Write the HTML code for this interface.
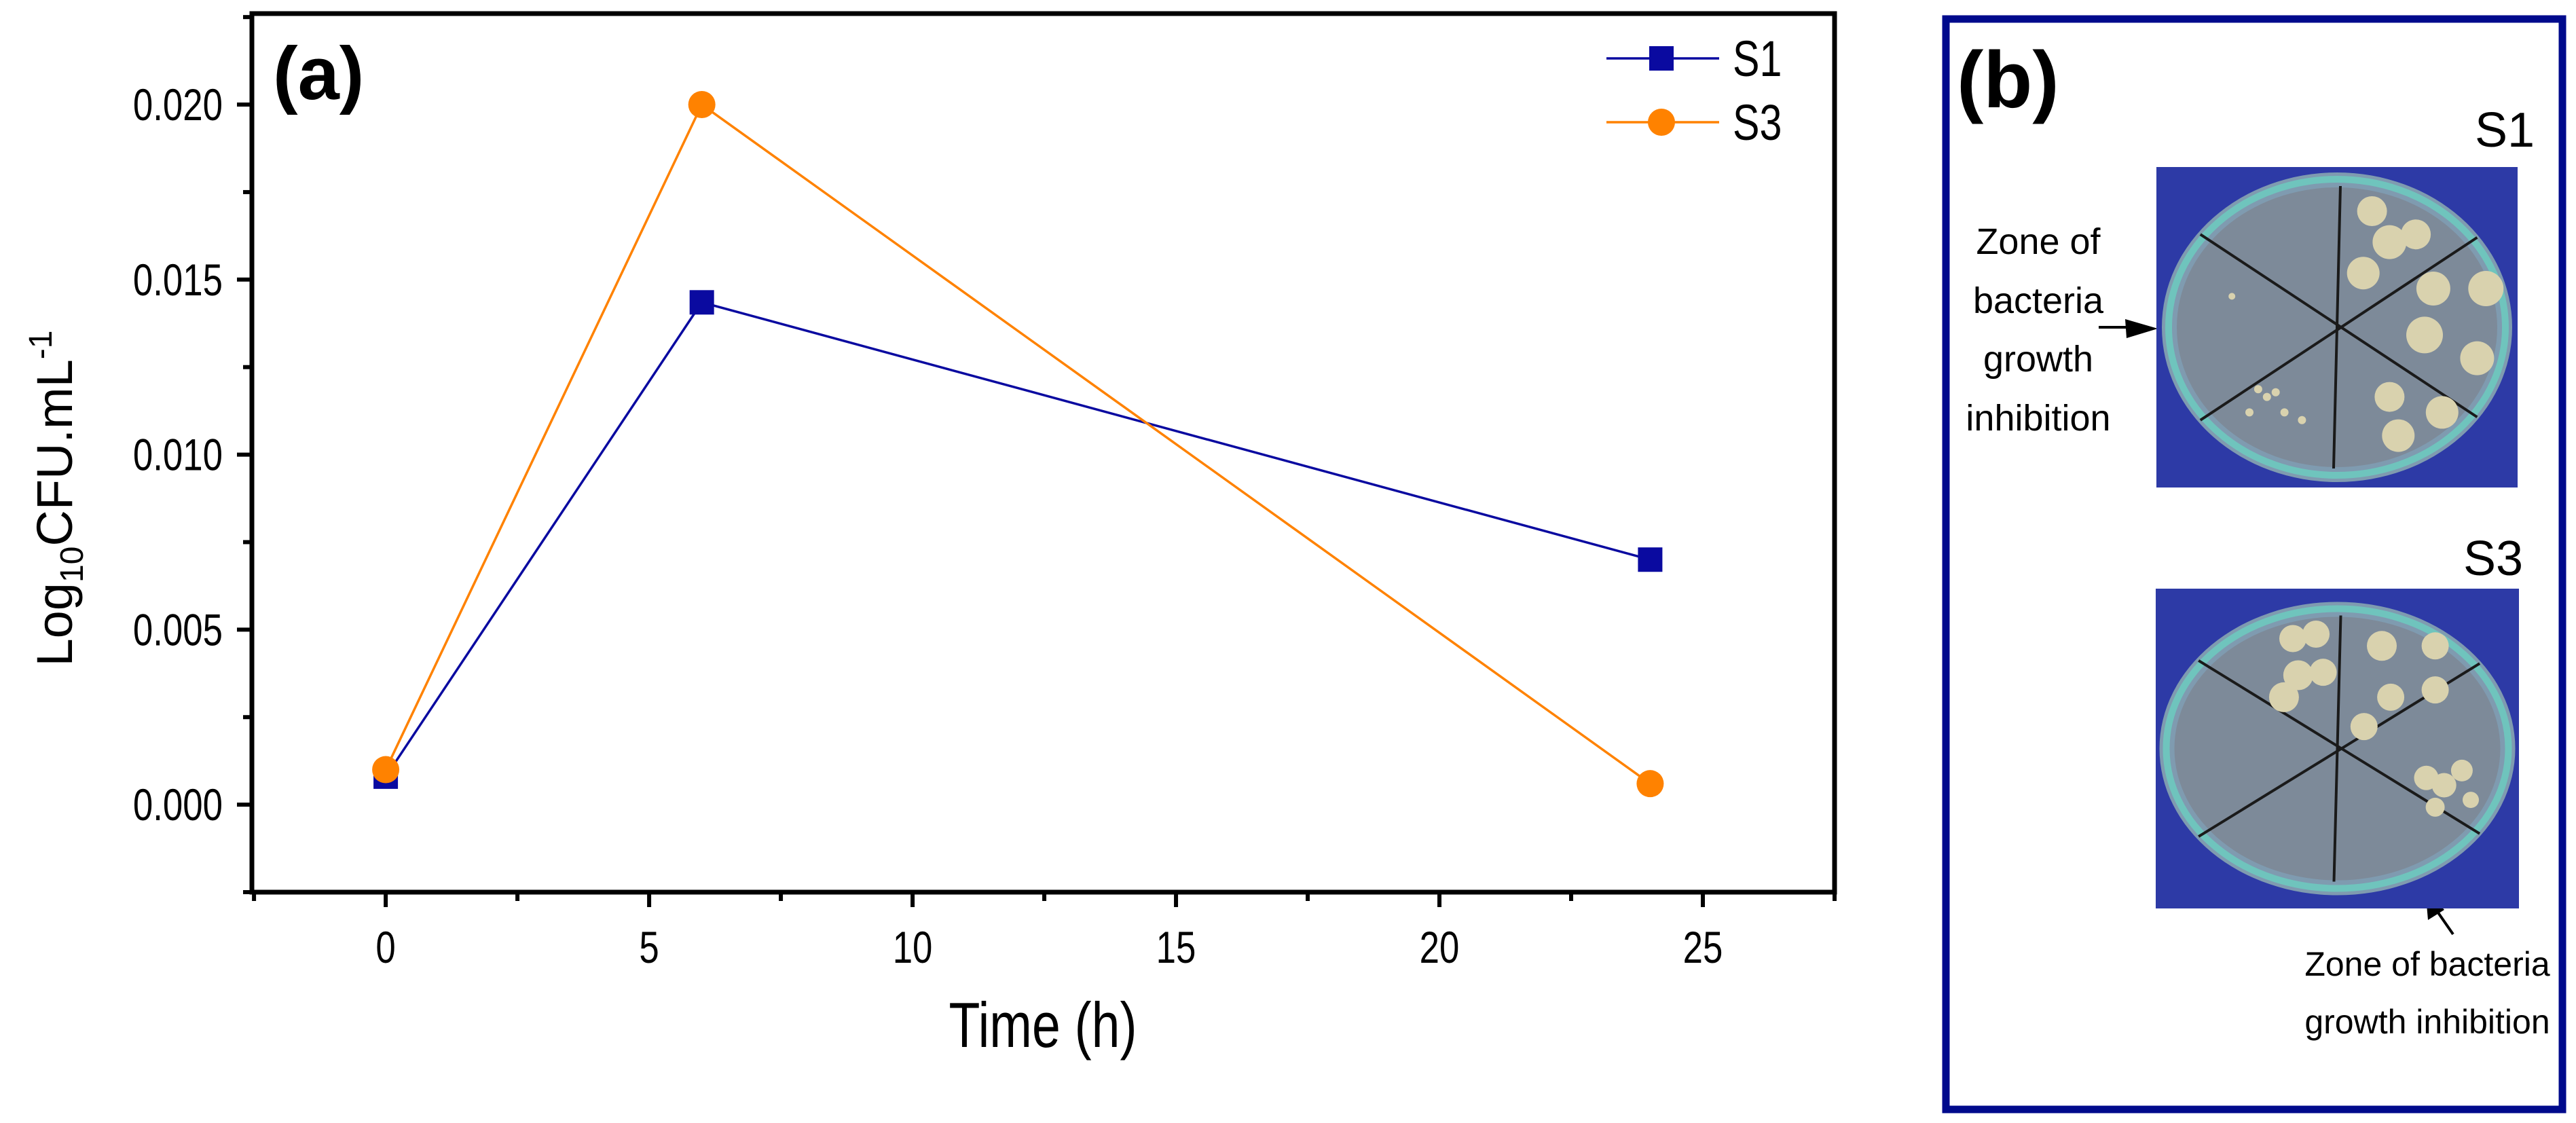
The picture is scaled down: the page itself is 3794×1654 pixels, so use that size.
<!DOCTYPE html>
<html><head><meta charset="utf-8"><style>
html,body{margin:0;padding:0;background:#fff}
svg{display:block}
text{font-family:"Liberation Sans Narrow","Liberation Sans",sans-serif}
.w{font-family:"Liberation Sans",sans-serif}
</style></head><body>
<svg id="fig" width="3794" height="1654" viewBox="0 0 3794 1654" xmlns="http://www.w3.org/2000/svg">
<rect width="3794" height="1654" fill="#fff"/>
<g id="chart"></g>
<g id="panelb">
<rect x="2866" y="28" width="908" height="1606" fill="none" stroke="#000a8c" stroke-width="11"/>
<text class="w" x="2882" y="158" font-size="118" font-weight="bold">(b)</text>
<text class="w" x="3645" y="216" font-size="72">S1</text>
<text class="w" x="3628" y="847" font-size="72">S3</text>
<g font-size="54" text-anchor="middle">
<text class="w" x="3002" y="374">Zone of</text>
<text class="w" x="3002" y="461">bacteria</text>
<text class="w" x="3002" y="547">growth</text>
<text class="w" x="3002" y="634">inhibition</text>
</g>
<g>
<line x1="3091" y1="482" x2="3140" y2="482" stroke="#000" stroke-width="4"/>
<polygon points="3178,484 3130,470 3132,498" fill="#000"/>
</g>
<g font-size="50" text-anchor="middle">
<text class="w" x="3575" y="1437">Zone of bacteria</text>
<text class="w" x="3575" y="1522">growth inhibition</text>
</g>
<g>
<line x1="3613" y1="1376" x2="3588" y2="1340" stroke="#000" stroke-width="4"/>
<polygon points="3572,1309 3576,1355 3600,1340" fill="#000"/>
</g>
<g id="plate1"></g>
<g id="plate2"></g>
</g>
</svg>
<script>
const categories = [0, 6, 24];
const s1Values = [0.0008, 0.01435, 0.0070];
const s3Values = [0.0010, 0.0200, 0.0006];
const xTicks = [0, 5, 10, 15, 20, 25];
const yTicks = [0.000, 0.005, 0.010, 0.015, 0.020];
const yTickLabels = ["0.000", "0.005", "0.010", "0.015", "0.020"];

const NS = "http://www.w3.org/2000/svg";
const L = 371, R = 2702, T = 20, B = 1314;
const xMin = -2.54, xMax = 27.5, yMin = -0.0025, yMax = 0.0226;
function xs(v){ return L + (v - xMin) / (xMax - xMin) * (R - L); }
function ys(v){ return B - (v - yMin) / (yMax - yMin) * (B - T); }
function mk(tag, attrs, parent){
  const e = document.createElementNS(NS, tag);
  for (const k in attrs) e.setAttribute(k, attrs[k]);
  parent.appendChild(e);
  return e;
}
function narrow(x, y){ return 'translate(' + x + ',' + y + ') scale(0.8,1)'; }
const g = document.getElementById('chart');

const frame = mk('rect', {x:L, y:T, width:R-L, height:B-T, fill:'none', stroke:'#000', 'stroke-width':7}, g);



for (let v = -2.5; v <= 27.5; v += 2.5) {
  const major = Math.abs(v % 5) < 1e-9;
  const t = mk('line', {x1:xs(v), x2:xs(v), y1:B, y2:B + (major ? 22 : 13), stroke:'#000', 'stroke-width':6}, g);
  
  
}
xTicks.forEach(v => {
  const t = mk('text', {transform:narrow(xs(v), 1418), 'font-size':66, 'text-anchor':'middle'}, g);
  t.textContent = String(v);
  
  
});
for (let v = -0.0025; v <= 0.0226; v += 0.0025) {
  const major = Math.abs(Math.round(v / 0.0025)) % 2 === 0;
  const t = mk('line', {x1:L - (major ? 22 : 13), x2:L, y1:ys(v), y2:ys(v), stroke:'#000', 'stroke-width':6}, g);
  
  
}
yTicks.forEach((v, i) => {
  const t = mk('text', {transform:narrow(328, ys(v) + 23), 'font-size':66, 'text-anchor':'end'}, g);
  t.textContent = yTickLabels[i];
  
  
});

const xt = mk('text', {transform:narrow(1536, 1542), 'font-size':94, 'text-anchor':'middle'}, g);
xt.textContent = 'Time (h)';



const yt = mk('text', {transform:'translate(106,734) rotate(-90)', 'font-size':74, 'text-anchor':'middle', class:'w'}, g);


yt.innerHTML = 'Log<tspan font-size="48" dy="16">10</tspan><tspan dy="-16">CFU.mL</tspan><tspan font-size="48" dy="-30">-1</tspan>';

const pa = mk('text', {x:402, y:146, 'font-size':110, 'font-weight':'bold', class:'w'}, g);
pa.textContent = '(a)';



function series(vals, color, shape, name){
  const pts = categories.map((c, i) => xs(c) + ',' + ys(vals[i])).join(' ');
  const pl = mk('polyline', {points:pts, fill:'none', stroke:color, 'stroke-width':3.5}, g);
  
  
  categories.forEach((c, i) => {
    let m;
    if (shape === 'sq') m = mk('rect', {x:xs(c) - 18, y:ys(vals[i]) - 18, width:36, height:36, fill:color}, g);
    else m = mk('circle', {cx:xs(c), cy:ys(vals[i]), r:20, fill:color}, g);
    
    
  });
}
series(s1Values, '#0a0aa0', 'sq', 's1');
series(s3Values, '#ff8200', 'ci', 's3');

function legend(y, color, shape, label, name){
  const lg = mk('g', {}, g);
  
  
  mk('line', {x1:2366, x2:2532, y1:y, y2:y, stroke:color, 'stroke-width':3.5}, lg);
  if (shape === 'sq') mk('rect', {x:2429, y:y - 18, width:36, height:36, fill:color}, lg);
  else mk('circle', {cx:2447, cy:y, r:20, fill:color}, lg);
  const t = mk('text', {transform:narrow(2552, y + 26), 'font-size':74}, lg);
  t.textContent = label;
}
legend(86, '#0a0aa0', 'sq', 'S1', 'legend-entry-s1');
legend(180, '#ff8200', 'ci', 'S3', 'legend-entry-s3');

function plate(id, x, y, w, h, rx, ry, colonies){
  const p = document.getElementById(id);
  mk('rect', {x:x, y:y, width:w, height:h, fill:'#2d3aa6'}, p);
  const cx = x + w/2, cy = y + h/2;
  mk('ellipse', {cx:cx, cy:cy, rx:rx, ry:ry, fill:'#7f9bb0'}, p);
  mk('ellipse', {cx:cx, cy:cy, rx:rx-10, ry:ry-10, fill:'none', stroke:'#6fc4bd', 'stroke-width':10}, p);
  mk('ellipse', {cx:cx, cy:cy, rx:rx-22, ry:ry-22, fill:'#7d8a99'}, p);
  mk('line', {x1:cx+5, y1:cy-ry+20, x2:cx-5, y2:cy+ry-20, stroke:'#1a1a1a', 'stroke-width':4}, p);
  mk('line', {x1:cx-rx*0.78, y1:cy-ry*0.6, x2:cx+rx*0.8, y2:cy+ry*0.58, stroke:'#1a1a1a', 'stroke-width':4}, p);
  mk('line', {x1:cx-rx*0.78, y1:cy+ry*0.6, x2:cx+rx*0.8, y2:cy-ry*0.58, stroke:'#1a1a1a', 'stroke-width':4}, p);
  colonies.forEach(c => mk('circle', {cx:cx + c[0]*rx, cy:cy + c[1]*ry, r:c[2], fill:'#d9d2ae'}, p));
}
plate('plate1', 3176, 246, 532, 472, 258, 228, [
  [0.2,-0.75,22],[0.45,-0.6,22],[0.3,-0.55,25],[0.15,-0.35,24],[0.55,-0.25,25],[0.85,-0.25,26],
  [0.5,0.05,27],[0.8,0.2,25],[0.3,0.45,22],[0.6,0.55,24],[0.35,0.7,24],
  [-0.45,0.4,6],[-0.4,0.45,6],[-0.35,0.42,6],[-0.5,0.55,6],[-0.2,0.6,6],[-0.3,0.55,6],[-0.6,-0.2,5]
]);
plate('plate2', 3175, 867, 535, 471, 262, 216, [
  [-0.25,-0.75,20],[-0.12,-0.78,20],[-0.22,-0.5,22],[-0.08,-0.52,20],[-0.3,-0.35,22],
  [0.25,-0.7,22],[0.55,-0.7,20],[0.3,-0.35,20],[0.55,-0.4,20],[0.15,-0.15,20],
  [0.5,0.2,18],[0.6,0.25,18],[0.7,0.15,16],[0.55,0.4,14],[0.75,0.35,12]
]);
</script>
</body></html>
